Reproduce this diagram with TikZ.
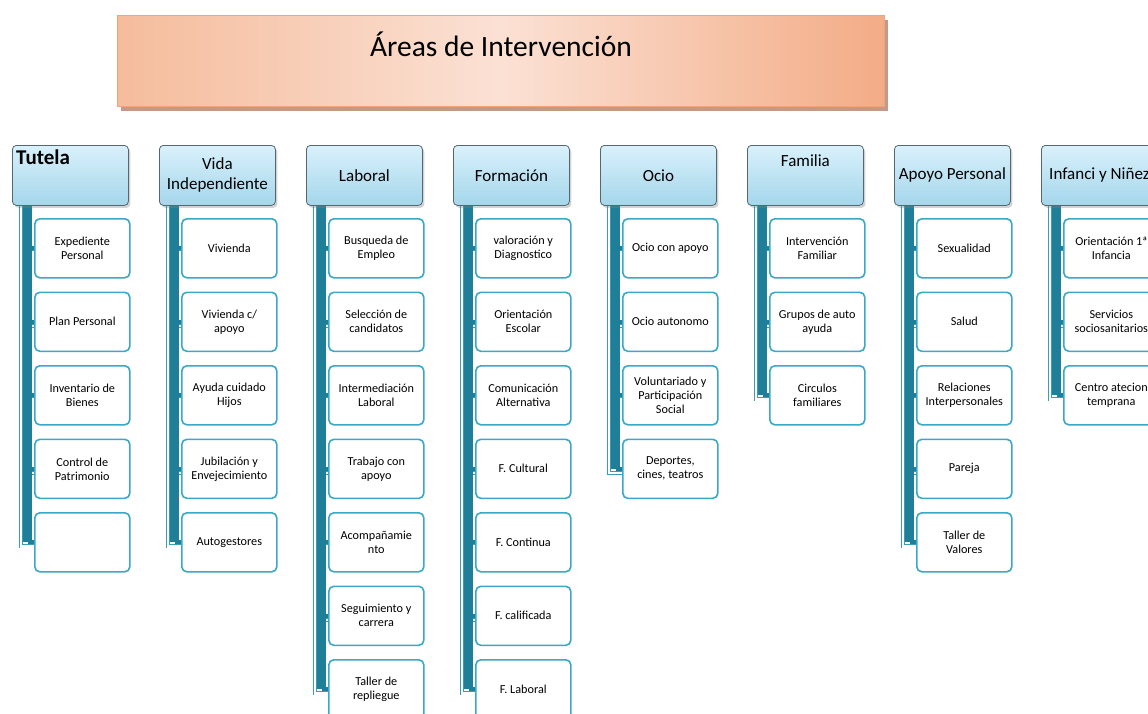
\documentclass[tikz,border=0pt]{standalone}
\usepackage{fontspec}
\setmainfont{Carlito}
\usetikzlibrary{shadows}
\pgfdeclarelayer{background}
\pgfsetlayers{background,main}
\definecolor{dteal}{HTML}{1F7F98}
\definecolor{oteal}{HTML}{3A9DB8}
\definecolor{kidborder}{HTML}{3AA8C6}
\definecolor{hdrborder}{HTML}{56676E}
\definecolor{hdrtop}{HTML}{D9F1FB}
\definecolor{hdrbot}{HTML}{A4D6EB}
\definecolor{ttlA}{HTML}{F5BC9C}
\definecolor{ttlB}{HTML}{FBE1D4}
\definecolor{ttlC}{HTML}{F3AC86}
\definecolor{ttlborder}{HTML}{F2A37B}
\definecolor{ttlshadow}{HTML}{C39A88}
\tikzset{
  hdr/.style={draw=hdrborder, line width=0.8pt, rounded corners=4pt,
    top color=hdrtop, bottom color=hdrbot, minimum width=116pt, minimum height=60pt,
    anchor=north west, inner sep=2pt, align=center,
    font=\fontsize{17}{20}\selectfont,
    drop shadow={shadow xshift=2pt, shadow yshift=-2.5pt, opacity=0.35}},
  kid/.style={draw=kidborder, line width=1.6pt, rounded corners=5pt, fill=white,
    minimum width=95pt, minimum height=59pt, anchor=north west, align=center,
    inner sep=1pt, font=\fontsize{12.2}{14}\selectfont},
  outl/.style={draw=oteal, line width=0.9pt, double=white, double distance=2.5pt},
  darkv/.style={draw=dteal, line width=9pt},
  darkh/.style={draw=dteal, line width=4pt},
  ttl/.style={draw=ttlborder, line width=1pt, anchor=north west,
    minimum width=767pt, minimum height=91pt,
    left color=ttlA, right color=ttlC, middle color=ttlB,
    drop shadow={shadow xshift=3pt, shadow yshift=-4pt, fill=ttlshadow, opacity=1}}
}
% #1 column index, #2 header options, #3 header text, #4 last child index, #5 children
\newcommand\areacol[5]{%
  \pgfmathsetmacro\hx{12+147*#1}
  \node[hdr,#2] (h#1) at (\hx,145) {#3};
  \foreach \t [count=\j from 0] in {#5} {
    \node[kid] (k#1-\j) at (\hx+22,218+73.5*\j) {\t};
  }
  \begin{pgfonlayer}{background}
    \foreach \j in {0,...,#4} {
      \draw[outl] ([xshift=9pt]h#1.south west) |- ([yshift=-4pt]k#1-\j.west);
    }
    \draw[darkv] ([xshift=15.5pt]h#1.south west) -- ([xshift=15.5pt]h#1.south west |- k#1-#4.west);
    \foreach \j in {0,...,#4} {
      \draw[darkh] ([xshift=15.5pt]h#1.south west |- k#1-\j.west) -- (k#1-\j.west);
    }
  \end{pgfonlayer}
}
\begin{document}
\begin{tikzpicture}[x=1pt,y=-1pt]
\useasboundingbox (0,0) rectangle (1148,713);
\clip (0,0) rectangle (1148,713);
\node[ttl, label={[anchor=base, yshift=-41pt, font=\fontsize{29.5}{34}\selectfont]north:Áreas de Intervención}] (title) at (117,15) {};
\areacol{0}{label={[anchor=base west, inner sep=0pt, xshift=4pt, yshift=-19pt, font=\bfseries\fontsize{21}{24}\selectfont]north west:Tutela}}{}{4}%
  {{Expediente\\Personal},{Plan Personal},{Inventario de\\Bienes},{Control de\\Patrimonio},{}}
\areacol{1}{}{Vida\\Independiente}{4}%
  {{Vivienda},{Vivienda c/\\apoyo},{Ayuda cuidado\\Hijos},{Jubilación y\\Envejecimiento},{Autogestores}}
\areacol{2}{}{Laboral}{6}%
  {{Busqueda de\\Empleo},{Selección de\\candidatos},{Intermediación\\Laboral},{Trabajo con\\apoyo},{Acompañamie\\nto},{Seguimiento y\\carrera},{Taller de\\repliegue}}
\areacol{3}{}{Formación}{6}%
  {{valoración y\\Diagnostico},{Orientación\\Escolar},{Comunicación\\Alternativa},{F. Cultural},{F. Continua},{F. calificada},{F. Laboral}}
\areacol{4}{}{Ocio}{3}%
  {{Ocio con apoyo},{Ocio autonomo},{Voluntariado y\\Participación\\Social},{Deportes,\\cines, teatros}}
\areacol{5}{label={[anchor=base, yshift=-21pt, font=\fontsize{17}{20}\selectfont]north:Familia}}{}{2}%
  {{Intervención\\Familiar},{Grupos de auto\\ayuda},{Circulos\\familiares}}
\areacol{6}{}{Apoyo Personal}{4}%
  {{Sexualidad},{Salud},{Relaciones\\Interpersonales},{Pareja},{Taller de\\Valores}}
\areacol{7}{}{Infanci y Niñez}{2}%
  {{Orientación 1ª\\Infancia},{Servicios\\sociosanitarios},{Centro atecion\\temprana}}
\end{tikzpicture}
\end{document}
